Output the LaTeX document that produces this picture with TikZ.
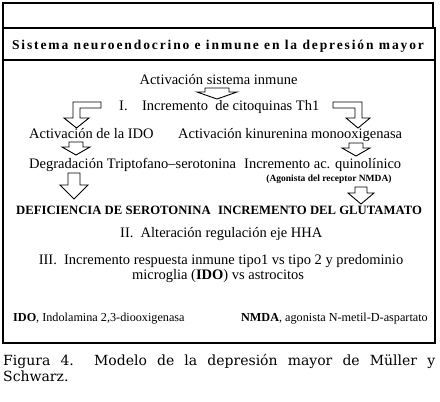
\documentclass[tikz,border=0pt]{standalone}
\usepackage{fontspec}
\setmainfont{Liberation Serif}
\newfontfamily\capfont{DejaVu Serif}
\newfontfamily\titlefont[LetterSpace=14]{Liberation Serif}
\begin{document}
\begin{tikzpicture}[x=1pt,y=-1pt,
  txt/.style={inner sep=0pt, font=\fontsize{14.5}{17}\selectfont},
  bcaps/.style={inner sep=0pt, font=\fontsize{12.7}{15}\selectfont\bfseries},
  smalltxt/.style={inner sep=0pt, font=\fontsize{9.5}{11}\selectfont\bfseries},
  foot/.style={inner sep=0pt, font=\fontsize{12.2}{14}\selectfont},
  captxt/.style={inner sep=0pt, font=\fontsize{14}{16}\capfont},
  frame/.style={draw=black, line width=1.3pt},
  blockarrow/.style={draw=black, fill=white, line width=0.9pt, line join=miter}]
\useasboundingbox (0,0) rectangle (440,402);
% frame
\draw[frame] (3,3) rectangle (433,28);
\draw[frame] (3,28) -- (435,28) -- (435,343) -- (3,343) -- cycle;
\draw[frame] (3,60) -- (435,60);
% title
\node[inner sep=0pt, anchor=base, font=\fontsize{13.5}{15}\titlefont\bfseries] (title) at (218,49) {Sistema neuroendocrino e inmune en la depresión mayor};
% texts
\node[txt, anchor=base] (act) at (218.5,84) {Activación sistema inmune};
\node[txt, anchor=base west] (inc) at (119,110) {I.\hspace{1em}Incremento\ \ de citoquinas Th1};
\node[txt, anchor=base west] (ido) at (29,138) {Activación de la IDO};
\node[txt, anchor=base west] (kin) at (178,138) {Activación kinurenina monooxigenasa};
\node[txt, anchor=base west] (deg) at (29,168) {Degradación Triptofano–serotonina};
\node[txt, anchor=base west] (qui) at (244,168) {Incremento ac. quinolínico};
\node[smalltxt, anchor=base] (nmda) at (329,181) {(Agonista del receptor NMDA)};
\node[bcaps, anchor=base west] (def) at (16,214) {DEFICIENCIA DE SEROTONINA};
\node[bcaps, anchor=base west] (glu) at (218,214) {INCREMENTO DEL GLUTAMATO};
\node[txt, anchor=base west] (hha) at (120,237) {II.\ \ Alteración regulación eje HHA};
\node[txt, anchor=base] (resp) at (221,264) {III.\ \ Incremento respuesta inmune tipo1 vs tipo 2 y predominio};
\node[txt, anchor=base] (micro) at (218,279) {microglia (\textbf{IDO}) vs astrocitos};
\node[foot, anchor=base west] (fido) at (13,321) {\textbf{IDO}, Indolamina 2,3-diooxigenasa};
\node[foot, anchor=base east] (fnmda) at (428,321) {\textbf{NMDA}, agonista N-metil-D-aspartato};
% caption
\node[captxt, anchor=base west] (cap1) at (3,365) {\makebox[432pt][s]{Figura 4.\ \ Modelo de la depresión mayor de Müller y}};
\node[captxt, anchor=base west] (cap2) at (3,381) {Schwarz.};
% block arrows
\draw[blockarrow] (205,88) -- (229,88) -- (229,92) -- (237,92) -- (217,99) -- (197,92) -- (205,92) -- cycle;
\draw[blockarrow] (101,102) -- (73,102) -- (73,118) -- (64,118) -- (76.5,128) -- (89,118) -- (80,118) -- (80,108) -- (101,108) -- cycle;
\draw[blockarrow] (333,102) -- (362,102) -- (362,118) -- (370,118) -- (358,128) -- (346,118) -- (355,118) -- (355,108) -- (333,108) -- cycle;
\draw[blockarrow] (69,142) -- (83,142) -- (83,147) -- (90,147) -- (76,155) -- (62,147) -- (69,147) -- cycle;
\draw[blockarrow] (349,143) -- (363,143) -- (363,148) -- (370,148) -- (356,156) -- (342,148) -- (349,148) -- cycle;
\draw[blockarrow] (68,173) -- (80,173) -- (80,185) -- (88,185) -- (74,199) -- (60,185) -- (68,185) -- cycle;
\draw[blockarrow] (355,187) -- (367,187) -- (367,193) -- (374,193) -- (361,204) -- (348,193) -- (355,193) -- cycle;
\end{tikzpicture}
\end{document}
